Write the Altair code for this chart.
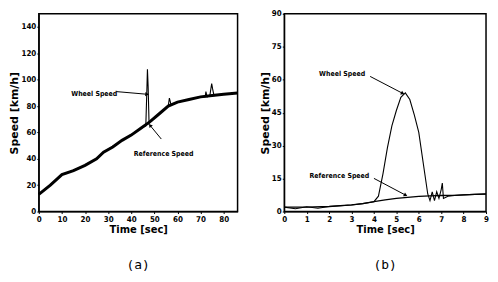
import altair as alt
import pandas as pd

# ---------- panel (a) ----------
a_ref_t = [0, 5, 10, 15, 20, 25, 28, 32, 36, 40, 44, 48, 52, 56, 60, 65, 70, 75, 80, 86]
a_ref_v = [13, 20, 28, 31, 35, 40, 45, 49, 54, 58, 63, 68, 74, 80, 83, 85, 87, 88, 89, 90]

a_whl_t = [0, 10, 20, 25, 28, 36, 44, 46.3, 46.8, 47.0, 47.3, 47.7, 48, 52, 56, 56.5, 56.8, 57.2, 60, 65, 70,
           72, 72.3, 72.8, 74, 74.8, 75.2, 75.8, 80, 86]
a_whl_v = [13, 28, 35, 40, 45, 54, 63, 65, 95, 108, 95, 67, 68, 74, 80, 86, 84, 81, 83, 85, 87,
           87, 91, 87, 88, 97, 93, 88, 89, 90]

a_txt = ["Wheel Speed", "Reference Speed"]
a_txt_t = [24, 54]
a_txt_v = [89.5, 44]
a_arrow_id = ["w", "w", "r", "r"]
a_arrow_t = [33.5, 46.6, 53, 48.3]
a_arrow_v = [91, 89, 55, 65]
a_head_t = [46.6, 48.3]
a_head_v = [89, 65]
a_head_ang = [95, 322]

# ---------- panel (b) ----------
b_ref_t = [0, 1, 2, 3, 3.5, 4, 4.5, 5, 5.5, 6, 6.5, 7, 7.5, 8, 8.5, 9]
b_ref_v = [2, 2, 2.3, 3, 3.6, 4.5, 5.3, 6, 6.5, 6.9, 7.1, 7.3, 7.4, 7.6, 7.8, 8]

b_whl_t = [0, 0.5, 1, 1.5, 2, 3, 3.5, 4.0, 4.2, 4.4, 4.6, 4.8, 5.0, 5.2, 5.4, 5.6, 5.8, 6.0, 6.2, 6.4,
           6.5, 6.6, 6.7, 6.8, 6.9, 7.0, 7.05, 7.1, 7.3, 7.6, 8, 8.5, 9]
b_whl_v = [2, 1.3, 2.2, 1.5, 2.3, 3, 3.6, 4.5, 7, 17, 29, 39, 46, 52, 54, 51, 44, 36, 22, 8,
           5, 9, 5, 9, 6, 10, 13, 6, 7, 7.3, 7.6, 7.8, 8]

b_txt = ["Wheel Speed", "Reference Speed"]
b_txt_t = [2.58, 2.46]
b_txt_v = [62.4, 16]
b_arrow_id = ["w", "w", "r", "r"]
b_arrow_t = [3.83, 5.26, 4.0, 5.39]
b_arrow_v = [61.5, 53.9, 15.1, 7.6]
b_head_t = [5.26, 5.39]
b_head_v = [53.9, 7.6]
b_head_ang = [117, 118]

LBL_FONT = "Liberation Sans Narrow, DejaVu Sans Condensed, Liberation Sans"


def panel(ref_t, ref_v, whl_t, whl_v, txt, txt_t, txt_v, arr_id, arr_t, arr_v,
          head_t, head_v, head_ang, xmax, xstep, ymax, ystep, w, h, label, ref_width):
    ref = pd.DataFrame({"t": ref_t, "v": ref_v})
    whl = pd.DataFrame({"t": whl_t, "v": whl_v})
    tx = pd.DataFrame({"t": txt_t, "v": txt_v, "s": txt})
    ar = pd.DataFrame({"t": arr_t, "v": arr_v, "id": arr_id})
    hd = pd.DataFrame({"t": head_t, "v": head_v, "a": head_ang})

    x = alt.X("t:Q", scale=alt.Scale(domain=[0, xmax], nice=False, zero=False),
              axis=alt.Axis(title="Time [sec]", values=list(range(0, int(xmax) + 1, xstep)),
                            grid=False, tickSize=2, labelPadding=2, titlePadding=1,
                            labelOverlap=False, labelFlush=False))
    y = alt.Y("v:Q", scale=alt.Scale(domain=[0, ymax], nice=False),
              axis=alt.Axis(title="Speed [km/h]", values=list(range(0, ymax + 1, ystep)),
                            grid=False, tickSize=2, labelPadding=1, titlePadding=1,
                            labelOverlap=False, labelFlush=False))

    base_ref = alt.Chart(ref).mark_line(color="black", strokeWidth=ref_width).encode(x=x, y=y)
    base_whl = alt.Chart(whl).mark_line(color="black", strokeWidth=1.1).encode(x=x, y=y)
    texts = alt.Chart(tx).mark_text(font=LBL_FONT, fontSize=7, fontWeight="bold",
                                    color="black").encode(x=x, y=y, text="s:N")
    arrows = alt.Chart(ar).mark_line(color="black", strokeWidth=1).encode(
        x=x, y=y, detail="id:N")
    heads = alt.Chart(hd).mark_point(shape="triangle", filled=True, color="black", size=18,
                                     opacity=1).encode(x=x, y=y, angle=alt.Angle("a:Q", scale=None))
    return alt.layer(base_ref, base_whl, arrows, heads, texts).properties(
        width=w, height=h,
        title=alt.TitleParams(label, orient="bottom", font="DejaVu Sans Mono", fontSize=13,
                              fontWeight="normal", offset=25, color="black"))


pa = panel(a_ref_t, a_ref_v, a_whl_t, a_whl_v, a_txt, a_txt_t, a_txt_v, a_arrow_id,
           a_arrow_t, a_arrow_v, a_head_t, a_head_v, a_head_ang, 86, 10, 150, 20, 200, 199, "(a)", 3)
pb = panel(b_ref_t, b_ref_v, b_whl_t, b_whl_v, b_txt, b_txt_t, b_txt_v, b_arrow_id,
           b_arrow_t, b_arrow_v, b_head_t, b_head_v, b_head_ang, 9, 1, 90, 15, 203, 199, "(b)", 1.3)

chart = alt.hconcat(pa, pb, spacing=14).properties(
    padding={"left": 0, "top": 0, "right": 0, "bottom": 0},
    background="white",
).configure_view(stroke="black", strokeWidth=1.5).configure_axis(
    labelFont=LBL_FONT, labelFontSize=8, labelFontWeight="bold", labelColor="black",
    titleFont="DejaVu Sans, Liberation Sans", titleFontSize=10, titleFontWeight="bold",
    titleColor="black", domainColor="black", tickColor="black", domainWidth=1,
).configure_axisY(titleFontSize=11)

chart.save("out.html", embed_options={"renderer": "svg", "actions": False})
